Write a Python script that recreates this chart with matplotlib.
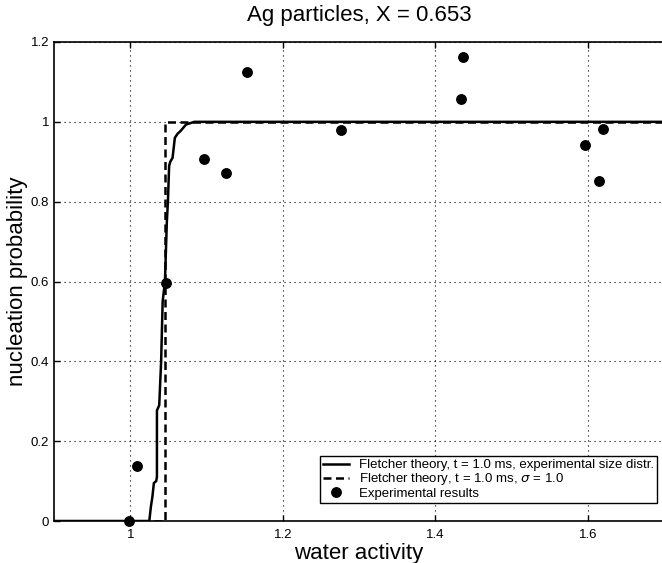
import matplotlib
matplotlib.use("Agg")
import matplotlib.pyplot as plt

plt.rcParams['font.family'] = ['Liberation Sans', 'DejaVu Sans']

# Fletcher theory with experimental size distribution (stepped curve)
fletcher_exp_x = [0.9, 1.025, 1.027, 1.029, 1.031, 1.034, 1.035, 1.035, 1.038, 1.0405,
                  1.0425, 1.0455, 1.048, 1.0494, 1.051, 1.0525, 1.0555, 1.0585, 1.062,
                  1.066, 1.073, 1.084, 1.7]
fletcher_exp_y = [0.0, 0.0, 0.035, 0.06, 0.095, 0.10, 0.11, 0.277, 0.29, 0.40,
                  0.55, 0.60, 0.75, 0.80, 0.89, 0.90, 0.91, 0.96, 0.97,
                  0.977, 0.993, 1.0, 1.0]

# Fletcher theory, sigma = 1.0 (step)
fletcher_sig_x = [0.9, 1.045, 1.045, 1.7]
fletcher_sig_y = [0.0, 0.0, 1.0, 1.0]

# Experimental results
exp_x = [0.998, 1.009, 1.047, 1.097, 1.125, 1.153, 1.276, 1.434, 1.437, 1.596, 1.615, 1.62]
exp_y = [0.0, 0.137, 0.597, 0.907, 0.872, 1.125, 0.98, 1.058, 1.163, 0.942, 0.852, 0.983]

xticks = [1.0, 1.2, 1.4, 1.6]
xticklabels = ['1', '1.2', '1.4', '1.6']
yticks = [0, 0.2, 0.4, 0.6, 0.8, 1.0, 1.2]
yticklabels = ['0', '0.2', '0.4', '0.6', '0.8', '1', '1.2']

fig = plt.figure(figsize=(6.62, 5.63), dpi=100)
ax = fig.add_axes([54/662, 42/563, 610/662, 479/563])

ax.plot(fletcher_exp_x, fletcher_exp_y, color='black', lw=1.8, solid_joinstyle='miter',
        label='Fletcher theory, t = 1.0 ms, experimental size distr.', zorder=3)
ax.plot(fletcher_sig_x, fletcher_sig_y, color='black', lw=1.8, linestyle=(0, (3.2, 1.8)),
        label=r'Fletcher theory, t = 1.0 ms, $\sigma$ = 1.0', zorder=3)
ax.plot(exp_x, exp_y, linestyle='none', marker='o', markersize=6.8, color='black',
        label='Experimental results', zorder=4, clip_on=False)

ax.set_xlim(0.9, 1.7)
ax.set_ylim(0, 1.2)
ax.set_xticks(xticks)
ax.set_xticklabels(xticklabels)
ax.set_yticks(yticks)
ax.set_yticklabels(yticklabels)
ax.grid(True, color='black', linestyle=(0, (1, 3.5)), linewidth=0.8)
ax.tick_params(direction='in', length=4, width=1, labelsize=9.5, top=True, right=False)
ax.tick_params(axis='x', pad=6)
ax.tick_params(axis='y', pad=3.5)
for s in ax.spines.values():
    s.set_linewidth(1.2)

ax.set_title('Ag particles, X = 0.653', fontsize=16, pad=15)
ax.set_xlabel('water activity', fontsize=16, labelpad=1)
ax.set_ylabel('nucleation probability', fontsize=16)
ax.yaxis.set_label_coords(-0.042, 0.5)

leg = ax.legend(loc='lower right', bbox_to_anchor=(657/662, 60/563), bbox_transform=fig.transFigure,
                fontsize=9.5, frameon=True, fancybox=False, edgecolor='black', framealpha=1,
                numpoints=1, handlelength=2.0, borderaxespad=0, labelspacing=0.0,
                borderpad=0.25, handletextpad=0.7)
leg.get_frame().set_linewidth(1.0)

fig.savefig('out.png', dpi=100)
